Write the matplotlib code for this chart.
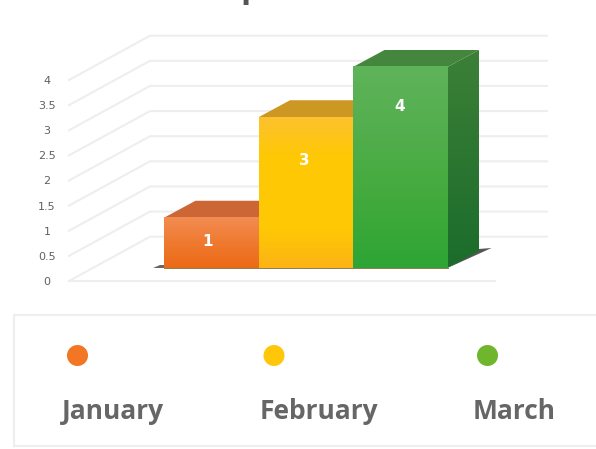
import numpy as np
import matplotlib
matplotlib.use("Agg")
import matplotlib.pyplot as plt
from matplotlib.colors import LinearSegmentedColormap
from matplotlib.patches import Polygon, Ellipse, Rectangle

months = ["January", "February", "March"]
values = [1, 3, 4]
y_ticks = [0, 0.5, 1, 1.5, 2, 2.5, 3, 3.5, 4]
y_tick_labels = ["0", "0.5", "1", "1.5", "2", "2.5", "3", "3.5", "4"]
front_colors = [["#f28c52", "#ef7a30", "#ec6a16"],
                ["#fdc12e", "#ffc805", "#ffc805", "#ffc805", "#fcb314"],
                ["#5fb45a", "#52ae4c", "#42aa3c", "#2da535"]]
top_colors = ["#cd6635", "#cc9722", "#45863f"]
side_colors = ["#3c8037", "#1b6c2b"]
legend_colors = ["#f27623", "#ffc60a", "#70b62c"]
label_drop_px = [24, 43, 40]
label_shift_px = [-4, -1, -1]

W, H = 596, 449
fig = plt.figure(figsize=(W / 100, H / 100), dpi=100, facecolor="white")

# Chart scales: one unit of x is a bar slot, one unit of y is a chart value.
PX_X, PX_Y = 94.5, 50.25
X0, Y0 = 211.25, 268.0
ax = fig.add_axes([0, 0, 1, 1])
ax.set_axis_off()
xlim = ((0 - X0) / PX_X, (W - X0) / PX_X)
ylim = ((Y0 - H) / PX_Y, Y0 / PX_Y)

def dx(p):
    return p / PX_X

def dy(p):
    return p / PX_Y

# 3D frame
grid_c = "#eeeef1"
left = xlim[0] + dx(69)
back = xlim[0] + dx(150)
back_end = xlim[0] + dx(547)
front_end = xlim[0] + dx(495)
front_off = dy(-13)
back_off = dy(31.3)
for v in y_ticks:
    ax.plot([left, back, back_end], [v + front_off, v + back_off, v + back_off],
            color=grid_c, lw=1.5, zorder=1, solid_joinstyle="miter")
ax.plot([left, front_end], [front_off, front_off], color=grid_c, lw=1.5, zorder=1)
for v, lab in zip(y_ticks, y_tick_labels):
    ax.text(xlim[0] + dx(47), v + front_off + dy(-1), lab, ha="center", va="center",
            fontsize=8, color="#606060", family="DejaVu Sans")

def gradient(colors, x0, x1, y0, y1, clip=None, z=3):
    cmap = LinearSegmentedColormap.from_list("g", colors)
    g = np.linspace(0, 1, 128).reshape(-1, 1)
    im = ax.imshow(g, cmap=cmap, extent=(x0, x1, y0, y1), origin="upper",
                   aspect="auto", zorder=z, interpolation="bilinear")
    if clip is not None:
        p = Polygon(clip, closed=True, transform=ax.transData, fc="none", ec="none")
        ax.add_patch(p)
        im.set_clip_path(p)

depth_x, depth_y = dx(31.5), dy(17)

# floor shadows
last = len(values) - 1
sx = last + 0.5
ax.add_patch(Polygon([(sx, 0), (sx + dx(44), dy(20)), (sx + dx(31), dy(19)), (sx, 0)],
                     fc="#555555", ec="none", zorder=2))
ax.add_patch(Polygon([(-0.5, 0), (-0.5 - dx(11), 0), (-0.5 - dx(4), dy(3)), (-0.5, dy(3))],
                     fc="#666666", ec="none", zorder=2))

for i, v in enumerate(values):
    l, r = i - 0.5, i + 0.5
    # top face
    ax.add_patch(Polygon([(l, v), (l + depth_x, v + depth_y), (r + depth_x, v + depth_y), (r, v)],
                         fc=top_colors[i], ec="none", zorder=2 + i * 0.1))
    # front face
    gradient(front_colors[i], l, r, 0, v, z=4 + i * 0.1)
ax.plot([-0.5, last + 0.5], [0, 0], color="#8f7a45", lw=0.7, zorder=5)

# side face of the tallest, right-most bar
v = values[last]
r = last + 0.5
side = [(r, 0), (r + depth_x, depth_y), (r + depth_x, v + depth_y), (r, v)]
gradient(side_colors, r, r + depth_x, 0, v + depth_y, clip=side, z=3.5)

for i, v in enumerate(values):
    ax.text(i + dx(label_shift_px[i]), v - dy(label_drop_px[i]), str(v), ha="center", va="center",
            color="white", fontsize=11, fontweight="bold", family="DejaVu Sans", zorder=6)

ax.set_xlim(*xlim)
ax.set_ylim(*ylim)

# Legend panel and clipped title, in pixel positions
lg = fig.add_axes([0, 0, 1, 1], facecolor="none")
lg.set_axis_off()
lg.set_xlim(0, W)
lg.set_ylim(H, 0)
lg.add_patch(Rectangle((13.5, 314.5), 620, 131, fc="white", ec="#eeeeee", lw=1.6, zorder=1))
dot_x = [77.5, 274, 487.5]
label_x = [113, 319, 514.5]
for m, c, xd, xl in zip(months, legend_colors, dot_x, label_x):
    lg.add_patch(Ellipse((xd, 355.5), 21, 21, fc=c, ec="none", zorder=2))
    lg.text(xl, 419, m, ha="center", va="baseline", fontsize=19, fontweight="bold",
            family="Open Sans", color="#666666", zorder=2)
lg.text(251, -3, "p", ha="center", va="baseline", fontsize=24, fontweight="bold",
        family="Open Sans", color="#555555", clip_on=True)

fig.savefig("out.png", dpi=100, facecolor="white")
